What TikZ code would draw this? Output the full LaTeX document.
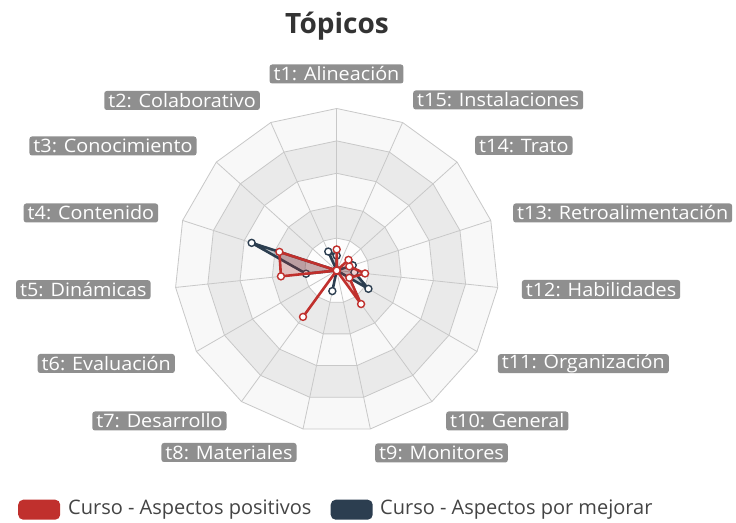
\documentclass[tikz,border=0pt]{standalone}
\usepackage{fontspec}
\setmainfont{Open Sans}
\newfontfamily\labelfont[FakeStretch=1.07]{Open Sans}

\definecolor{cursored}{HTML}{C0302D}
\definecolor{cursodark}{HTML}{2C3E50}
\definecolor{gridgrey}{HTML}{C8C8C8}
\definecolor{ringlight}{HTML}{F8F8F8}
\definecolor{ringdark}{HTML}{EAEAEA}
\definecolor{ringcore}{HTML}{FDFDFD}
\definecolor{labelgrey}{HTML}{8F8F8F}
\definecolor{titlegrey}{HTML}{333333}
\definecolor{legendgrey}{HTML}{444444}

\tikzset{
  topic/.style={fill=labelgrey, text=white, rounded corners=2.5pt, inner xsep=4pt,
    inner ysep=0pt, minimum height=19pt, font=\labelfont\fontsize{18.5}{19}\selectfont},
  gridline/.style={draw=gridgrey, line width=0.8pt},
  redpt/.style={circle, draw=cursored, fill=white, line width=1.4pt, inner sep=0pt, minimum size=7pt},
  darkpt/.style={circle, draw=cursodark, fill=white, line width=1.4pt, inner sep=0pt, minimum size=7pt},
  legendbox/.style={rounded corners=5pt, minimum width=42pt, minimum height=20pt, inner sep=0pt},
  legendtext/.style={anchor=west, text=legendgrey, inner sep=0pt, font=\fontsize{20}{22}\selectfont},
}

\begin{document}
\begin{tikzpicture}[x=1pt,y=1pt]
\useasboundingbox[fill=white] (0,0) rectangle (736,522);
\node[anchor=base, text=titlegrey, font=\bfseries\fontsize{28}{30}\selectfont] (title) at (337,488.7) {Tópicos};

\begin{scope}[shift={(336.7pt,251.5pt)}, x=32.4pt, y=32.4pt]
% rings and spokes
\foreach \k/\col in {5/ringlight,4/ringdark,3/ringlight,2/ringdark,1/ringcore}
  \filldraw[gridline, fill=\col] (90:\k) \foreach \i in {1,...,14} {-- (90+\i*24:\k)} -- cycle;
\foreach \i in {0,...,14}
  \draw[gridline] (0,0) -- (90+\i*24:5);

% Curso - Aspectos por mejorar
\coordinate (d1) at (90:0.46);
\coordinate (d2) at (114:0.64);
\coordinate (d3) at (138:0);
\coordinate (d4) at (162:2.76);
\coordinate (d5) at (186:0.95);
\coordinate (d6) at (210:0);
\coordinate (d7) at (234:0);
\coordinate (d8) at (258:0.65);
\coordinate (d9) at (282:0);
\coordinate (d10) at (306:0);
\coordinate (d11) at (330:1.13);
\coordinate (d12) at (354:0.55);
\coordinate (d13) at (18:0.52);
\coordinate (d14) at (42:0);
\coordinate (d15) at (66:0);

% Curso - Aspectos positivos
\coordinate (r1) at (90:0.65);
\coordinate (r2) at (114:0);
\coordinate (r3) at (138:0);
\coordinate (r4) at (162:1.86);
\coordinate (r5) at (186:1.73);
\coordinate (r6) at (210:0);
\coordinate (r7) at (234:1.77);
\coordinate (r8) at (258:0);
\coordinate (r9) at (282:0);
\coordinate (r10) at (306:1.28);
\coordinate (r11) at (330:0.45);
\coordinate (r12) at (354:0.88);
\coordinate (r13) at (18:0.41);
\coordinate (r14) at (42:0.49);
\coordinate (r15) at (66:0);

\fill[cursodark, fill opacity=0.25] (d1) -- (d2) -- (d3) -- (d4) -- (d5) -- (d6) -- (d7) -- (d8)
  -- (d9) -- (d10) -- (d11) -- (d12) -- (d13) -- (d14) -- (d15) -- cycle;
\draw[cursodark, line width=2.6pt, line join=round] (d1) -- (d2) -- (d3) -- (d4) -- (d5) -- (d6)
  -- (d7) -- (d8) -- (d9) -- (d10) -- (d11) -- (d12) -- (d13) -- (d14) -- (d15) -- cycle;
\foreach \i in {1,...,15}
  \node[darkpt] (dm\i) at (d\i) {};

\fill[cursored, fill opacity=0.22] (r1) -- (r2) -- (r3) -- (r4) -- (r5) -- (r6) -- (r7) -- (r8)
  -- (r9) -- (r10) -- (r11) -- (r12) -- (r13) -- (r14) -- (r15) -- cycle;
\draw[cursored, line width=2.6pt, line join=round] (r1) -- (r2) -- (r3) -- (r4) -- (r5) -- (r6)
  -- (r7) -- (r8) -- (r9) -- (r10) -- (r11) -- (r12) -- (r13) -- (r14) -- (r15) -- cycle;
\foreach \i in {1,...,15}
  \node[redpt] (rm\i) at (r\i) {};
\end{scope}

% topic labels
\node[topic] (t1) at (336.5,448) {t1: Alineación};
\node[topic, anchor=east] (t2) at (260,421.5) {t2: Colaborativo};
\node[topic, anchor=east] (t3) at (196.7,376) {t3: Conocimiento};
\node[topic, anchor=east] (t4) at (158.3,309) {t4: Contenido};
\node[topic, anchor=east] (t5) at (150.7,232.3) {t5: Dinámicas};
\node[topic, anchor=east] (t6) at (175,158.5) {t6: Evaluación};
\node[topic, anchor=east] (t7) at (226.7,101) {t7: Desarrollo};
\node[topic, anchor=east] (t8) at (296.7,69.5) {t8: Materiales};
\node[topic, anchor=west] (t9) at (375,69) {t9: Monitores};
\node[topic, anchor=west] (t10) at (446,101) {t10: General};
\node[topic, anchor=west] (t11) at (497.7,158.3) {t11: Organización};
\node[topic, anchor=west] (t12) at (521.7,232.5) {t12: Habilidades};
\node[topic, anchor=west] (t13) at (513,309) {t13: Retroalimentación};
\node[topic, anchor=west] (t14) at (475,376.5) {t14: Trato};
\node[topic, anchor=west] (t15) at (413,422) {t15: Instalaciones};

% legend
\node[legendbox, fill=cursored] (keyred) at (39.2,12.3) {};
\node[legendtext] (keyredtext) at (68,12.3) {Curso - Aspectos positivos};
\node[legendbox, fill=cursodark] (keydark) at (351.7,12.3) {};
\node[legendtext] (keydarktext) at (380,12.3) {Curso - Aspectos por mejorar};
\end{tikzpicture}
\end{document}
